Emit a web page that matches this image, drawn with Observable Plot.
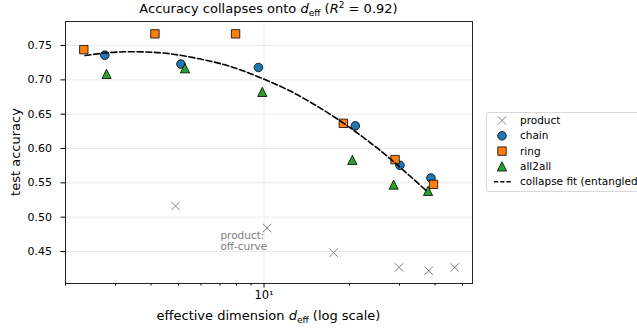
<!DOCTYPE html>
<html>
<head>
<meta charset="utf-8">
<script src="https://cdn.jsdelivr.net/npm/d3@7"></script>
<script src="https://cdn.jsdelivr.net/npm/@observablehq/plot@0.6"></script>
<style>
  html, body { margin: 0; padding: 0; background: #fff; }
  body { font-family: "DejaVu Sans", sans-serif; color: #000; }
  #chart svg { display: block; }
</style>
</head>
<body>
<div id="chart"></div>
<script>
// ---------- data ----------
const chainX = [2.75, 5.10, 9.55, 20.97, 30.1, 38.7];
const chainY = [0.736, 0.723, 0.718, 0.633, 0.5755, 0.557];

const ringX = [2.32, 4.13, 7.94, 19.02, 28.93, 39.5];
const ringY = [0.744, 0.767, 0.767, 0.6367, 0.5838, 0.5478];

const all2allX = [2.79, 5.27, 9.86, 20.46, 28.6, 37.8];
const all2allY = [0.7087, 0.7169, 0.6825, 0.5834, 0.5474, 0.5382];

const productX = [4.88, 10.25, 17.58, 29.9, 38.0, 46.9];
const productY = [0.5163, 0.4843, 0.4483, 0.4268, 0.4220, 0.4268];

// collapse fit (entangled): points
const fitX = [2.343, 2.755, 3.329, 4.020, 4.860, 6.645, 8.712, 11.41, 13.79, 18.07, 23.67, 28.60, 37.49];
const fitY = [0.7354, 0.7391, 0.7410, 0.7402, 0.7370, 0.7261, 0.7110, 0.6906, 0.6731, 0.6434, 0.6084, 0.5808, 0.5377];

const yTicks = [0.45, 0.50, 0.55, 0.60, 0.65, 0.70, 0.75];
const xMajorTicks = [10];
const xMinorTicks = [2, 3, 4, 5, 6, 7, 8, 9, 20, 30, 40, 50];

const seriesNames = ["product", "chain", "ring", "all2all", "collapse fit (entangled)"];
const annotation = [{x: 7.02, y: 0.4657, text: "product:\noff-curve"}];

// ---------- build tables ----------
const zip = (xs, ys) => xs.map((x, i) => ({x, y: ys[i]}));
const chain = zip(chainX, chainY);
const ring = zip(ringX, ringY);
const all2all = zip(all2allX, all2allY);
const product = zip(productX, productY);
const fit = zip(fitX, fitY);

// matplotlib-like marker shapes (size = PI r^2)
const rad = (size) => Math.sqrt(size / Math.PI);
const mplSquare = {draw(ctx, size) { const r = rad(size); ctx.moveTo(-r, -r); ctx.lineTo(r, -r); ctx.lineTo(r, r); ctx.lineTo(-r, r); ctx.closePath(); }};
const mplTriangle = {draw(ctx, size) { const r = rad(size); ctx.moveTo(0, -r); ctx.lineTo(r, r); ctx.lineTo(-r, r); ctx.closePath(); }};
const mplX = {draw(ctx, size) { const r = rad(size); ctx.moveTo(-r, -r); ctx.lineTo(r, r); ctx.moveTo(-r, r); ctx.lineTo(r, -r); }};

const C_CHAIN = "#1f77b4", C_RING = "#ff7f0e", C_ALL = "#2ca02c", C_PROD = "#808080";
const R_CIRC = 4.3, R_SQ = 4.2, R_TRI = 4.6, R_X = 4.2;
const DASH = "6,2.7";

const W = 637, H = 331, ML = 65, MR = 165, MT = 21, MB = 48;

const chart = Plot.plot({
  width: W,
  height: H,
  marginLeft: ML,
  marginRight: MR,
  marginTop: MT,
  marginBottom: MB,
  style: {fontFamily: "DejaVu Sans, sans-serif", fontSize: "11px", background: "#fff", color: "#000"},
  x: {type: "log", domain: [2.0, 54.2]},
  y: {domain: [0.4034, 0.785]},
  marks: [
    Plot.gridY(yTicks, {stroke: "#e8e8e8", strokeOpacity: 1, strokeWidth: 0.9}),
    Plot.gridX(xMajorTicks, {stroke: "#e8e8e8", strokeOpacity: 1, strokeWidth: 0.9}),
    Plot.axisY({ticks: yTicks, tickFormat: d3.format(".2f"), tickSize: 4.5, tickPadding: 9, fontSize: 11, label: null}),
    Plot.axisX({ticks: xMajorTicks, tickFormat: () => "10\u00B9", tickSize: 4.5, tickPadding: 3, fontSize: 11.5, label: null}),
    Plot.axisX({ticks: xMinorTicks, tickFormat: () => "", tickSize: 2.5, label: null}),
    Plot.dot(product, {x: "x", y: "y", symbol: mplX, r: R_X, fill: "none", stroke: C_PROD, strokeWidth: 1}),
    Plot.dot(chain, {x: "x", y: "y", symbol: "circle", r: R_CIRC, fill: C_CHAIN, stroke: "#000", strokeWidth: 0.8}),
    Plot.dot(ring, {x: "x", y: "y", symbol: mplSquare, r: R_SQ, fill: C_RING, stroke: "#000", strokeWidth: 0.8}),
    Plot.dot(all2all, {x: "x", y: "y", symbol: mplTriangle, r: R_TRI, fill: C_ALL, stroke: "#000", strokeWidth: 0.8}),
    Plot.line(fit, {x: "x", y: "y", stroke: "#000", strokeWidth: 1.6, strokeDasharray: DASH, curve: "natural"}),
    Plot.text(annotation, {x: "x", y: "y", text: "text", textAnchor: "start", fill: C_PROD, fontSize: 10.5, lineHeight: 1.12}),
    Plot.frame({stroke: "#222", strokeWidth: 1})
  ]
});

document.getElementById("chart").appendChild(chart);

// ---------- titles, labels and legend (non-data decorations) ----------
const svg = d3.select(chart);
const font = "DejaVu Sans, sans-serif";
const cx = ML + (W - ML - MR) / 2;

const title = svg.append("text").attr("x", cx).attr("y", 13).attr("text-anchor", "middle")
  .attr("font-family", font).attr("font-size", 13).attr("fill", "#000");
title.append("tspan").text("Accuracy collapses onto ");
title.append("tspan").attr("font-style", "italic").text("d");
title.append("tspan").attr("font-size", 9).attr("dy", 2.5).text("eff");
title.append("tspan").attr("dy", -2.5).text(" (");
title.append("tspan").attr("font-style", "italic").text("R");
title.append("tspan").attr("font-size", 9).attr("dy", -5).text("2");
title.append("tspan").attr("dy", 5).text(" = 0.92)");

const xl = svg.append("text").attr("x", cx).attr("y", 320).attr("text-anchor", "middle")
  .attr("font-family", font).attr("font-size", 13).attr("fill", "#000");
xl.append("tspan").text("effective dimension ");
xl.append("tspan").attr("font-style", "italic").text("d");
xl.append("tspan").attr("font-size", 9).attr("dy", 2.5).text("eff");
xl.append("tspan").attr("dy", -2.5).text(" (log scale)");

svg.append("text").attr("transform", `translate(20,${MT + (H - MT - MB) / 2}) rotate(-90)`)
  .attr("text-anchor", "middle").attr("font-family", font).attr("font-size", 13).attr("fill", "#000")
  .text("test accuracy");

// legend
const lg = svg.append("g").attr("font-family", font).attr("font-size", 10.5).attr("text-anchor", "start");
lg.append("rect").attr("x", 486.5).attr("y", 112.5).attr("width", 170).attr("height", 79)
  .attr("rx", 2.5).attr("fill", "#fff").attr("fill-opacity", 0.8).attr("stroke", "#d4d4d4").attr("stroke-width", 0.9);
const sym = (s, r) => d3.symbol().type(s).size(Math.PI * r * r)();
const entries = [
  {shape: mplX, r: R_X, fill: "none", stroke: C_PROD, sw: 1},
  {shape: d3.symbolCircle, r: R_CIRC, fill: C_CHAIN, stroke: "#000", sw: 0.8},
  {shape: mplSquare, r: R_SQ, fill: C_RING, stroke: "#000", sw: 0.8},
  {shape: mplTriangle, r: R_TRI, fill: C_ALL, stroke: "#000", sw: 0.8},
  {line: true}
];
const ly0 = 120.5, ldy = 15.3, lmx = 502, ltx = 520;
entries.forEach((e, i) => {
  const y = ly0 + i * ldy;
  if (e.line) {
    lg.append("line").attr("x1", 494).attr("x2", 512).attr("y1", y).attr("y2", y)
      .attr("stroke", "#000").attr("stroke-width", 1.6).attr("stroke-dasharray", "4.2,2");
  } else {
    lg.append("path").attr("d", sym(e.shape, e.r)).attr("transform", `translate(${lmx},${y})`)
      .attr("fill", e.fill).attr("stroke", e.stroke).attr("stroke-width", e.sw);
  }
  lg.append("text").attr("x", ltx).attr("y", y).attr("dy", "0.35em").attr("text-anchor", "start")
    .attr("fill", "#000").text(seriesNames[i]);
});
</script>
</body>
</html>
